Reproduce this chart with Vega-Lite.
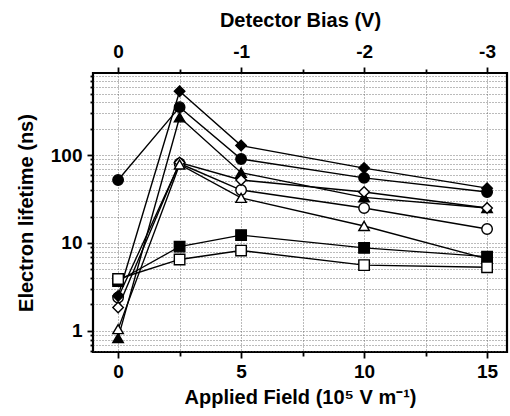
{
  "$schema": "https://vega.github.io/schema/vega-lite/v6.json",
  "width": 414,
  "height": 279,
  "autosize": {"type": "none"},
  "padding": {"left": 93, "top": 73, "right": 3, "bottom": 64},
  "background": "white",
  "config": {
    "view": {"stroke": "black", "strokeWidth": 2.2},
    "font": "Liberation Sans",
    "axis": {
      "labelFont": "Liberation Sans", "labelFontWeight": "bold", "labelFontSize": 19, "labelColor": "black",
      "titleFont": "Liberation Sans", "titleFontWeight": "bold", "titleFontSize": 20, "titleColor": "black",
      "domain": false, "tickColor": "black", "tickWidth": 1.8,
      "gridColor": "#555", "gridDash": [1, 2], "gridWidth": 1, "gridOpacity": 0.8
    }
  },
  "data": {"values": [
    {"series": "E", "field": 0, "tau": 2.4}, {"series": "E", "field": 2.5, "tau": 80}, {"series": "E", "field": 5, "tau": 40}, {"series": "E", "field": 10, "tau": 25}, {"series": "E", "field": 15, "tau": 14.4},
    {"series": "A", "field": 0, "tau": 2.5}, {"series": "A", "field": 2.5, "tau": 530}, {"series": "A", "field": 5, "tau": 128}, {"series": "A", "field": 10, "tau": 71}, {"series": "A", "field": 15, "tau": 42},
    {"series": "B", "field": 0, "tau": 52}, {"series": "B", "field": 2.5, "tau": 350}, {"series": "B", "field": 5, "tau": 90}, {"series": "B", "field": 10, "tau": 55}, {"series": "B", "field": 15, "tau": 38},
    {"series": "C", "field": 0, "tau": 0.83}, {"series": "C", "field": 2.5, "tau": 268}, {"series": "C", "field": 5, "tau": 63}, {"series": "C", "field": 10, "tau": 33}, {"series": "C", "field": 15, "tau": 25},
    {"series": "D", "field": 0, "tau": 1.85}, {"series": "D", "field": 2.5, "tau": 82}, {"series": "D", "field": 5, "tau": 52}, {"series": "D", "field": 10, "tau": 38}, {"series": "D", "field": 15, "tau": 25},
    {"series": "F", "field": 0, "tau": 1.05}, {"series": "F", "field": 2.5, "tau": 78}, {"series": "F", "field": 5, "tau": 32.6}, {"series": "F", "field": 10, "tau": 15.6}, {"series": "F", "field": 15, "tau": 6.6},
    {"series": "G", "field": 0, "tau": 3.7}, {"series": "G", "field": 2.5, "tau": 9.1}, {"series": "G", "field": 5, "tau": 12.3}, {"series": "G", "field": 10, "tau": 8.8}, {"series": "G", "field": 15, "tau": 7.0},
    {"series": "H", "field": 0, "tau": 3.9}, {"series": "H", "field": 2.5, "tau": 6.5}, {"series": "H", "field": 5, "tau": 8.2}, {"series": "H", "field": 10, "tau": 5.6}, {"series": "H", "field": 15, "tau": 5.3}
  ]},
  "resolve": {"axis": {"x": "independent"}},
  "layer": [
    {
      "mark": {"type": "line", "color": "black"},
      "encoding": {
        "x": {
          "field": "field", "type": "quantitative",
          "scale": {"domain": [-1.02, 15.81], "nice": false, "zero": false},
          "axis": {
            "orient": "bottom", "values": [0, 2.5, 5, 7.5, 10, 12.5, 15],
            "labelExpr": "datum.value % 5 == 0 ? datum.label : ''",
            "tickSize": {"condition": {"test": "datum.value % 5 == 0", "value": 6}, "value": 4},
            "labelPadding": 4, "labelFlush": false,
            "grid": true, "title": "Applied Field (10⁵ V m⁻¹)", "titlePadding": 6
          }
        },
        "y": {
          "field": "tau", "type": "quantitative",
          "scale": {"type": "log", "domain": [0.577, 855], "nice": false},
          "axis": {
            "values": [0.6, 0.7, 0.8, 0.9, 1, 2, 3, 4, 5, 6, 7, 8, 9, 10, 20, 30, 40, 50, 60, 70, 80, 90, 100, 200, 300, 400, 500, 600, 700, 800],
            "labelExpr": "(datum.value == 1 || datum.value == 10 || datum.value == 100) ? datum.label : ''",
            "tickSize": {"condition": {"test": "datum.value == 1 || datum.value == 10 || datum.value == 100", "value": 6}, "value": 3},
            "labelPadding": 5, "grid": true, "labelFlush": false,
            "title": "Electron lifetime (ns)", "titlePadding": 14
          }
        },
        "detail": {"field": "series"},
        "strokeWidth": {
          "field": "series", "type": "nominal",
          "scale": {"domain": ["A", "B", "C", "D", "E", "F", "G", "H"], "range": [1.4, 1.4, 2.3, 2.3, 2.3, 2.3, 1.5, 2.5]},
          "legend": null
        }
      }
    },
    {
      "mark": {"type": "point", "filled": true, "stroke": "black", "strokeWidth": 1.4, "opacity": 1, "size": 110},
      "encoding": {
        "x": {
          "field": "field", "type": "quantitative",
          "axis": {
            "orient": "top", "values": [0, 2.5, 5, 7.5, 10, 12.5, 15],
            "labelExpr": "datum.value == 0 ? '0' : (datum.value % 5 == 0 ? '-' + (datum.value / 5) : '')",
            "tickSize": {"condition": {"test": "datum.value % 5 == 0", "value": 6}, "value": 4},
            "labelPadding": 6, "labelFlush": false,
            "grid": false, "title": "Detector Bias (V)", "titlePadding": 12
          }
        },
        "y": {"field": "tau", "type": "quantitative"},
        "shape": {
          "field": "series", "type": "nominal",
          "scale": {"domain": ["A", "B", "C", "D", "E", "F", "G", "H"], "range": ["diamond", "circle", "triangle-up", "diamond", "circle", "triangle-up", "square", "square"]},
          "legend": null
        },
        "fill": {
          "field": "series", "type": "nominal",
          "scale": {"domain": ["A", "B", "C", "D", "E", "F", "G", "H"], "range": ["black", "black", "black", "white", "white", "white", "black", "white"]},
          "legend": null
        }
      }
    }
  ]
}
